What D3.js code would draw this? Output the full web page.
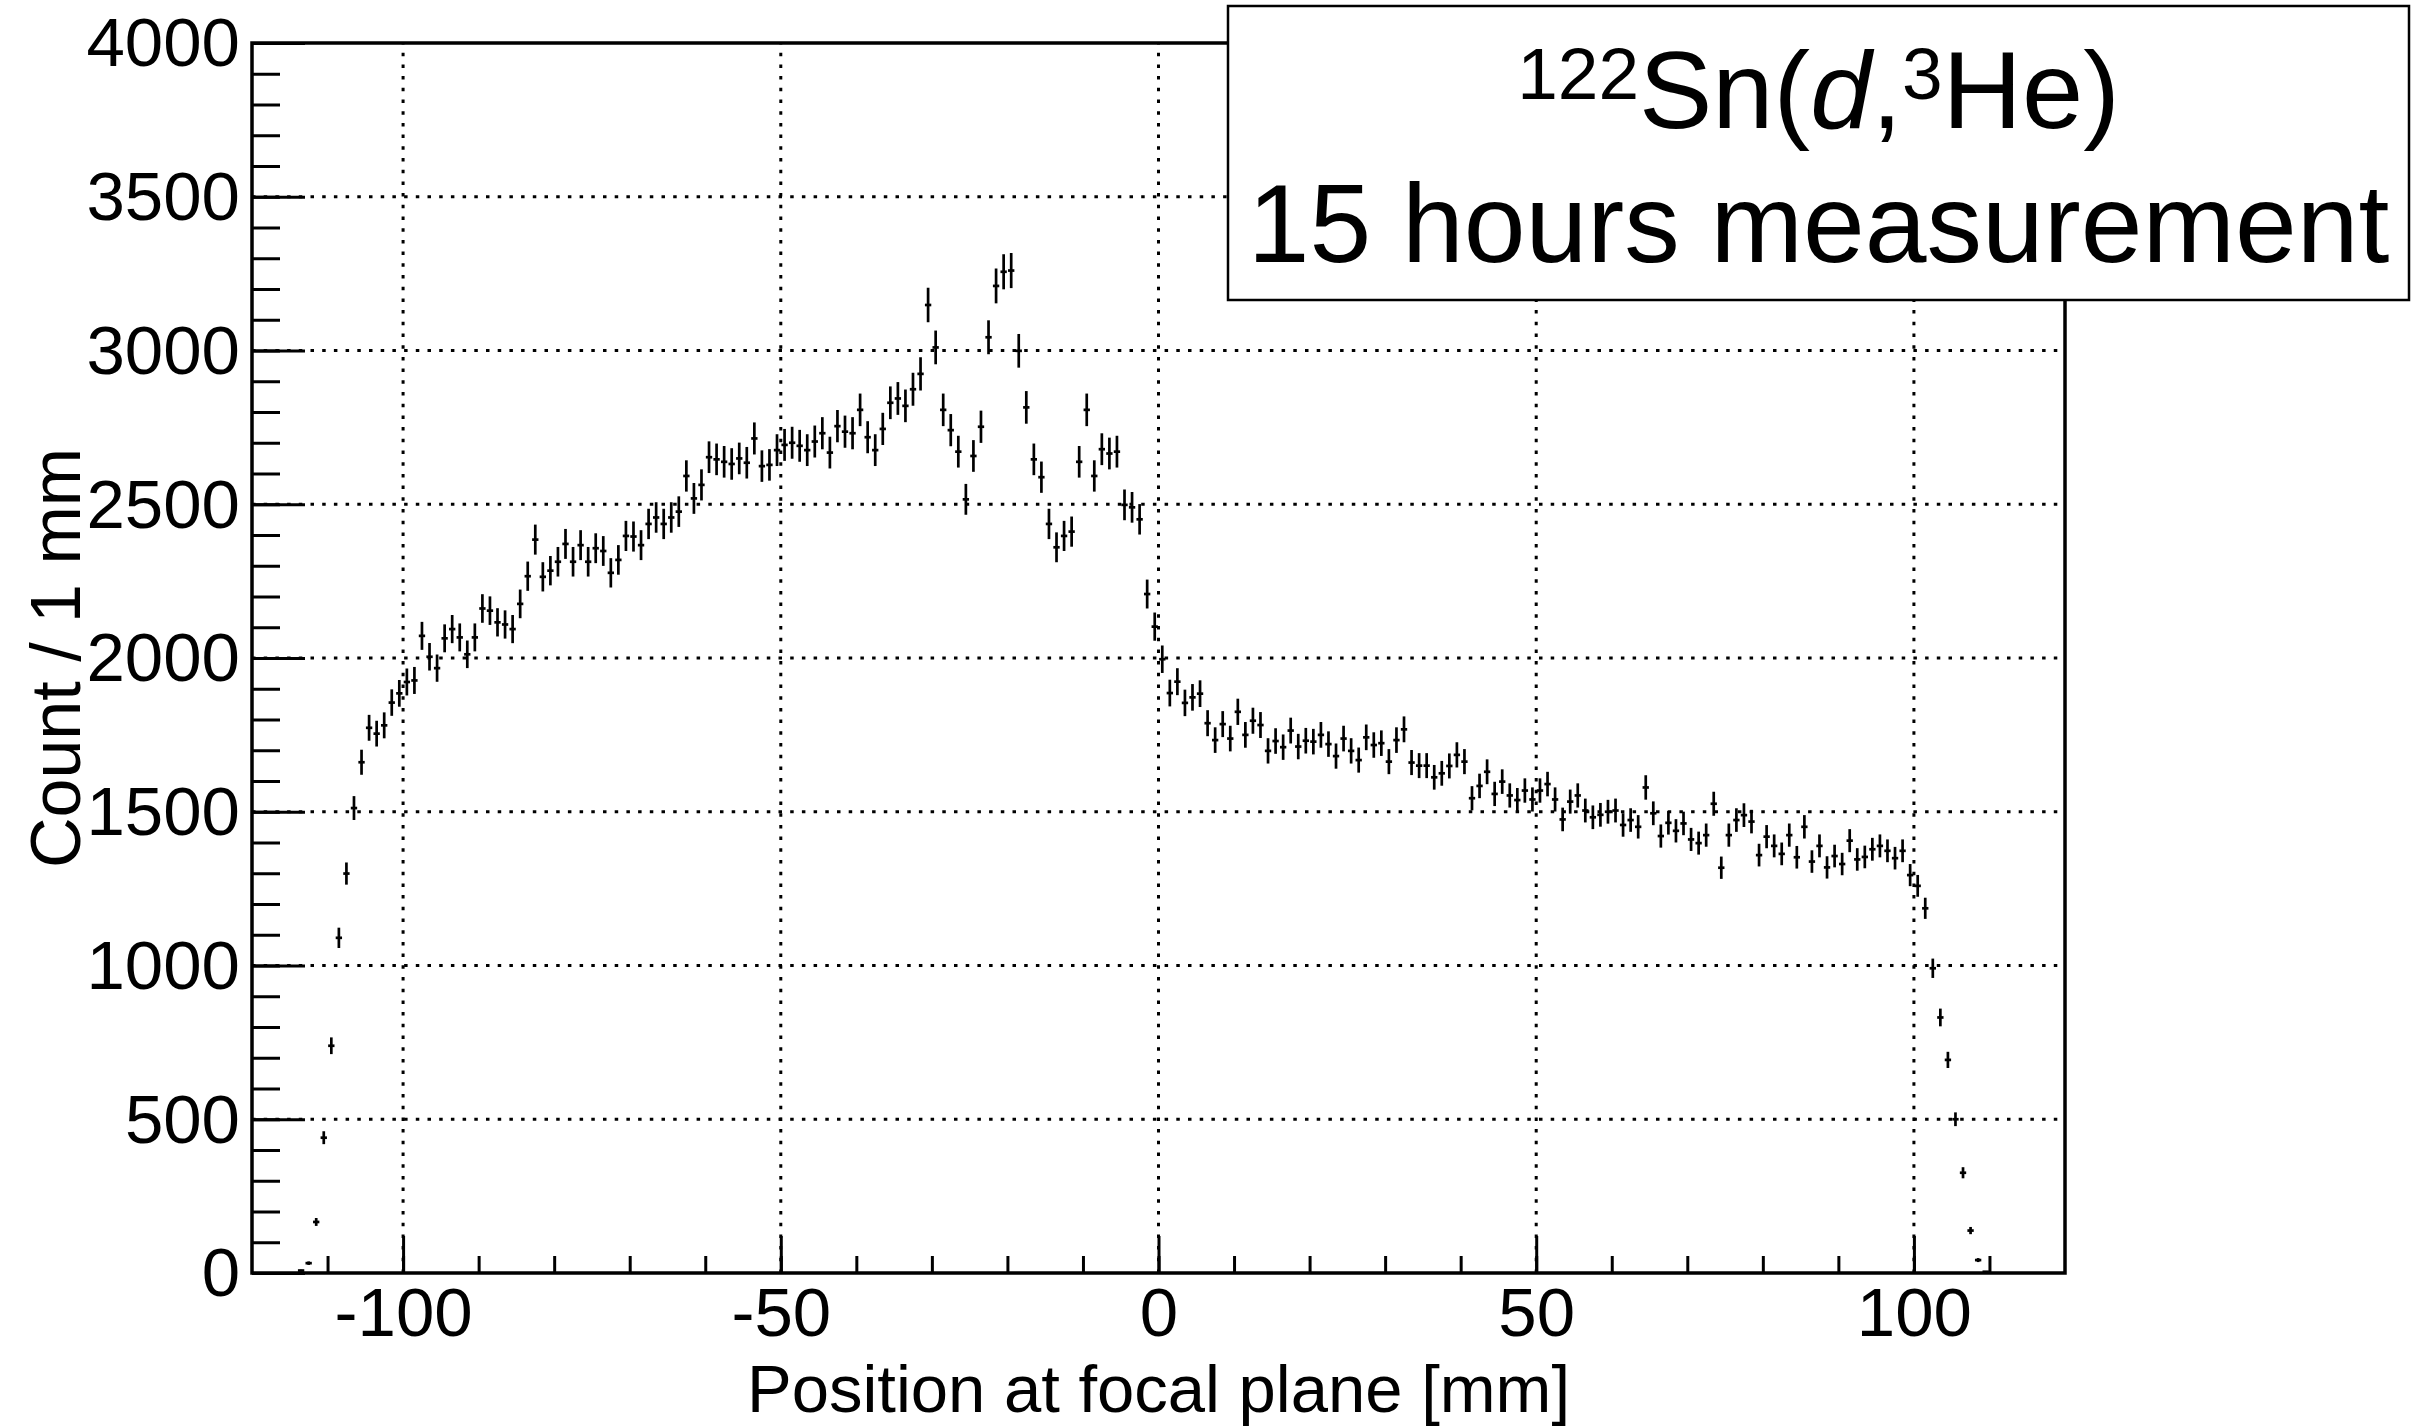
<!DOCTYPE html>
<html><head><meta charset="utf-8">
<script src="https://cdn.jsdelivr.net/npm/d3@7"></script>
<style>
html,body{margin:0;padding:0;background:#fff;}
svg{display:block;font-family:"Liberation Sans",Arial,Helvetica,sans-serif;}
</style></head><body>
<svg id="c" width="2428" height="1427"></svg>
<script>
// ---------- data (bin centres in mm, counts per 1 mm bin) ----------
const positions = [
-113.5,-112.5,-111.5,-110.5,-109.5,-108.5,-107.5,-106.5,-105.5,-104.5,-103.5,-102.5,-101.5,-100.5,-99.5,-98.5,-97.5,-96.5,-95.5,-94.5,
-93.5,-92.5,-91.5,-90.5,-89.5,-88.5,-87.5,-86.5,-85.5,-84.5,-83.5,-82.5,-81.5,-80.5,-79.5,-78.5,-77.5,-76.5,-75.5,-74.5,
-73.5,-72.5,-71.5,-70.5,-69.5,-68.5,-67.5,-66.5,-65.5,-64.5,-63.5,-62.5,-61.5,-60.5,-59.5,-58.5,-57.5,-56.5,-55.5,-54.5,
-53.5,-52.5,-51.5,-50.5,-49.5,-48.5,-47.5,-46.5,-45.5,-44.5,-43.5,-42.5,-41.5,-40.5,-39.5,-38.5,-37.5,-36.5,-35.5,-34.5,
-33.5,-32.5,-31.5,-30.5,-29.5,-28.5,-27.5,-26.5,-25.5,-24.5,-23.5,-22.5,-21.5,-20.5,-19.5,-18.5,-17.5,-16.5,-15.5,-14.5,
-13.5,-12.5,-11.5,-10.5,-9.5,-8.5,-7.5,-6.5,-5.5,-4.5,-3.5,-2.5,-1.5,-0.5,0.5,1.5,2.5,3.5,4.5,5.5,
6.5,7.5,8.5,9.5,10.5,11.5,12.5,13.5,14.5,15.5,16.5,17.5,18.5,19.5,20.5,21.5,22.5,23.5,24.5,25.5,
26.5,27.5,28.5,29.5,30.5,31.5,32.5,33.5,34.5,35.5,36.5,37.5,38.5,39.5,40.5,41.5,42.5,43.5,44.5,45.5,
46.5,47.5,48.5,49.5,50.5,51.5,52.5,53.5,54.5,55.5,56.5,57.5,58.5,59.5,60.5,61.5,62.5,63.5,64.5,65.5,
66.5,67.5,68.5,69.5,70.5,71.5,72.5,73.5,74.5,75.5,76.5,77.5,78.5,79.5,80.5,81.5,82.5,83.5,84.5,85.5,
86.5,87.5,88.5,89.5,90.5,91.5,92.5,93.5,94.5,95.5,96.5,97.5,98.5,99.5,100.5,101.5,102.5,103.5,104.5,105.5,
106.5,107.5,108.5,109.5
];
const counts = [
8,32,166,440,739,1090,1299,1512,1661,1773,1754,1781,1855,1885,1922,1927,2072,2004,1967,2064,
2094,2067,2012,2067,2161,2154,2116,2109,2094,2176,2266,2385,2264,2284,2313,2371,2313,2367,2313,2357,
2348,2277,2319,2397,2395,2367,2436,2457,2436,2457,2476,2592,2519,2563,2653,2646,2638,2631,2649,2635,
2714,2624,2628,2676,2693,2700,2690,2676,2704,2731,2668,2754,2736,2731,2807,2718,2676,2745,2830,2844,
2820,2874,2924,3148,3010,2807,2741,2671,2516,2657,2752,3043,3210,3256,3260,2999,2815,2646,2588,2436,
2360,2397,2411,2638,2807,2592,2679,2665,2671,2498,2490,2451,2208,2102,1996,1886,1923,1854,1872,1884,
1788,1733,1785,1738,1825,1750,1796,1782,1698,1730,1710,1764,1712,1731,1728,1750,1720,1681,1738,1698,
1668,1742,1717,1723,1663,1733,1768,1660,1650,1650,1612,1625,1649,1685,1663,1544,1584,1630,1558,1598,
1553,1538,1569,1540,1569,1590,1540,1475,1533,1553,1504,1482,1490,1500,1504,1457,1473,1451,1579,1495,
1421,1464,1438,1462,1410,1398,1424,1526,1318,1424,1473,1489,1468,1359,1419,1389,1363,1424,1352,1451,
1338,1389,1319,1356,1330,1406,1345,1353,1378,1389,1373,1349,1373,1294,1259,1186,991,831,693,500,
326,138,42,4
];
const xTickValues = [-100, -50, 0, 50, 100];
const xTickLabels = ["-100", "-50", "0", "50", "100"];
const xMinorTicks = [-110,-100,-90,-80,-70,-60,-50,-40,-30,-20,-10,0,10,20,30,40,50,60,70,80,90,100,110];
const yTickValues = [0, 500, 1000, 1500, 2000, 2500, 3000, 3500, 4000];
const yTickLabels = ["0", "500", "1000", "1500", "2000", "2500", "3000", "3500", "4000"];
const xDomain = [-120, 120];
const yDomain = [0, 4000];
const xTitle = "Position at focal plane [mm]";
const yTitle = "Count / 1 mm";

// ---------- layout ----------
const L = 252, R = 2065, T = 43, B = 1273;
const svg = d3.select("#c");
svg.append("rect").attr("width", 2428).attr("height", 1427).attr("fill", "#fff");

const x = d3.scaleLinear().domain(xDomain).range([L, R]);
const y = d3.scaleLinear().domain(yDomain).range([B, T]);
const yMinorTicks = y.ticks(40);

// grid
const grid = svg.append("g").attr("stroke", "#000").attr("stroke-width", 3)
  .attr("stroke-dasharray", "3.5 8.2").attr("fill", "none");
grid.selectAll("line.v").data(xTickValues).join("line").attr("class", "v")
  .attr("x1", d => x(d)).attr("x2", d => x(d)).attr("y1", B).attr("y2", T);
grid.selectAll("line.h").data(yTickValues.filter(v => v > yDomain[0] && v < yDomain[1])).join("line").attr("class", "h")
  .attr("x1", L).attr("x2", R).attr("y1", d => y(d)).attr("y2", d => y(d));

// data points with error bars
const pts = positions.map((p, i) => ({x: p, n: counts[i], e: Math.sqrt(counts[i])}));
const dg = svg.append("g").attr("stroke", "#000").attr("stroke-width", 2.7);
dg.selectAll("line.ev").data(pts).join("line").attr("class", "ev")
  .attr("x1", d => x(d.x)).attr("x2", d => x(d.x))
  .attr("y1", d => y(Math.max(0, d.n - d.e))).attr("y2", d => y(d.n + d.e));
dg.selectAll("line.eh").data(pts).join("line").attr("class", "eh")
  .attr("x1", d => x(d.x - 0.42)).attr("x2", d => x(d.x + 0.42))
  .attr("y1", d => y(d.n)).attr("y2", d => y(d.n));

// axes
const fontSize = 69;
const yMinorAxis = d3.axisLeft(y).tickValues(yMinorTicks).tickSize(-28).tickFormat("");
const yAxis = d3.axisLeft(y).tickValues(yTickValues).tickSize(-53).tickPadding(12)
  .tickFormat((d, i) => yTickLabels[i]);
const xMinorAxis = d3.axisBottom(x).tickValues(xMinorTicks).tickSize(-17).tickFormat("");
const xAxis = d3.axisBottom(x).tickValues(xTickValues).tickSize(-37)
  .tickFormat((d, i) => xTickLabels[i]);

function styleAxis(g) {
  g.select(".domain").remove();
  g.selectAll(".tick line").attr("stroke", "#000").attr("stroke-width", 3);
  g.selectAll("text").attr("fill", "#000").style("font-size", fontSize + "px")
    .style("font-family", '"Liberation Sans", Arial, sans-serif');
}
svg.append("g").attr("transform", `translate(${L},0)`).call(yMinorAxis).call(styleAxis);
svg.append("g").attr("transform", `translate(${L},0)`).call(yAxis).call(styleAxis)
  .selectAll("text").attr("dy", "0.33em");
svg.append("g").attr("transform", `translate(0,${B})`).call(xMinorAxis).call(styleAxis);
svg.append("g").attr("transform", `translate(0,${B})`).call(xAxis).call(styleAxis)
  .selectAll("text").attr("dy", null).attr("y", 63);

// frame
svg.append("rect").attr("x", L).attr("y", T).attr("width", R - L).attr("height", B - T)
  .attr("fill", "none").attr("stroke", "#000").attr("stroke-width", 3.5);

// axis titles
svg.append("text").attr("x", (L + R) / 2).attr("y", 1412).attr("text-anchor", "middle")
  .style("font-size", "67px").attr("fill", "#000").text(xTitle);
svg.append("text").attr("transform", `translate(80,${(T + B) / 2}) rotate(-90)`)
  .attr("text-anchor", "middle").style("font-size", "70px").attr("fill", "#000").text(yTitle);

// title box
const bx = 1228, by = 6, bw = 1181, bh = 294;
svg.append("rect").attr("x", bx).attr("y", by).attr("width", bw).attr("height", bh)
  .attr("fill", "#fff").attr("stroke", "#000").attr("stroke-width", 2.5);
const cx = bx + bw / 2;
const t1 = svg.append("text").attr("x", cx).attr("y", 128).attr("text-anchor", "middle")
  .style("font-size", "110px").attr("fill", "#000");
t1.append("tspan").attr("dy", -29).style("font-size", "73px").text("122");
t1.append("tspan").attr("dy", 29).text("Sn(");
t1.append("tspan").style("font-style", "italic").text("d");
t1.append("tspan").text(",");
t1.append("tspan").attr("dy", -29).style("font-size", "73px").text("3");
t1.append("tspan").attr("dy", 29).text("He)");
svg.append("text").attr("x", cx).attr("y", 262).attr("text-anchor", "middle")
  .style("font-size", "111px").attr("fill", "#000").text("15 hours measurement");
</script>
</body></html>
